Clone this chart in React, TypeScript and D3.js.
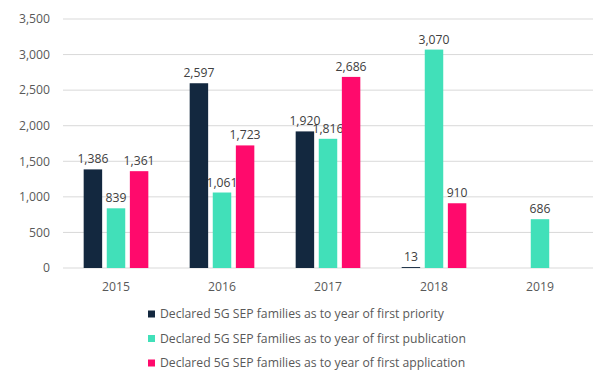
import React from "react";
import * as d3 from "d3";

const categories = ["2015", "2016", "2017", "2018", "2019"];
const seriesNames = [
  "Declared 5G SEP families as to year of first priority",
  "Declared 5G SEP families as to year of first publication",
  "Declared 5G SEP families as to year of first application",
];
const priority: (number | null)[] = [1386, 2597, 1920, 13, null];
const publication: (number | null)[] = [839, 1061, 1816, 3070, 686];
const application: (number | null)[] = [1361, 1723, 2686, 910, null];
const yTicks = [0, 500, 1000, 1500, 2000, 2500, 3000, 3500];
const colors = ["#13283f", "#41e0b9", "#ff0a6c"];

const W = 608, H = 387;
const M = { left: 63, right: 15, top: 19, bottom: 119 };
const FONT = "'Open Sans', sans-serif";
const FS = 12.2;

export default function App() {
  const series = [priority, publication, application];
  const x = d3.scaleBand<string>().domain(categories).range([M.left, W - M.right]).paddingInner(0.39).paddingOuter(0.195);
  const xi = d3.scaleBand<number>().domain([0, 1, 2]).range([0, x.bandwidth()]).paddingInner(0.2);
  const y = d3.scaleLinear().domain([0, 3500]).range([H - M.bottom, M.top]);
  const fmt = d3.format(",");
  return (
    <svg width={W} height={H} style={{ position: "absolute", left: 0, top: 0, fontFamily: FONT }}>
      <rect width={W} height={H} fill="#fff" />
      {yTicks.map((t) => (
        <g key={t}>
          <line x1={M.left} x2={W - M.right} y1={y(t)} y2={y(t)} stroke="#d9d9d9" strokeWidth={1} />
          <text x={50} y={y(t)} dy="0.35em" textAnchor="end" fontSize={FS} fill="#595959">{fmt(t)}</text>
        </g>
      ))}
      {categories.map((c, i) => (
        <g key={c}>
          {series.map((s, si) => {
            const v = s[i];
            if (v == null) return null;
            const bx = (x(c) as number) + (xi(si) as number);
            return (
              <g key={si}>
                <rect x={bx} y={y(v)} width={xi.bandwidth()} height={y(0) - y(v)} fill={colors[si]} />
                <text x={bx + xi.bandwidth() / 2} y={y(v) - 6} textAnchor="middle" fontSize={FS} fill="#404040">{fmt(v)}</text>
              </g>
            );
          })}
          <text x={(x(c) as number) + x.bandwidth() / 2} y={291} textAnchor="middle" fontSize={FS} fill="#595959">{c}</text>
        </g>
      ))}
      {seriesNames.map((n, i) => (
        <g key={n} transform={`translate(148, ${314 + i * 24.5})`}>
          <rect x={0} y={-3.5} width={7} height={7} fill={colors[i]} />
          <text x={12} y={0} dy="0.35em" fontSize={FS} fill="#595959">{n}</text>
        </g>
      ))}
    </svg>
  );
}
